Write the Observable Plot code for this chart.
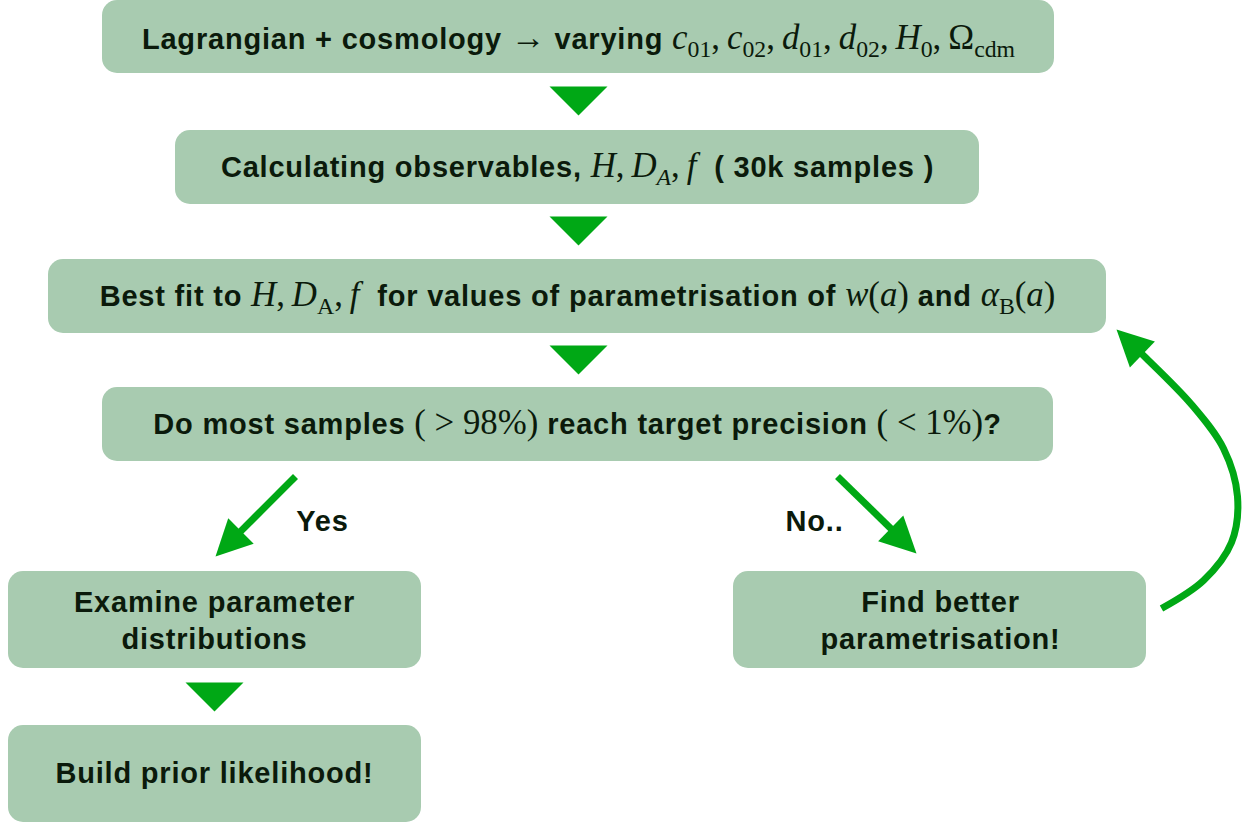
<!DOCTYPE html>
<html><head><meta charset="utf-8">
<script src="https://cdn.jsdelivr.net/npm/d3@7"></script>
<script src="https://cdn.jsdelivr.net/npm/@observablehq/plot@0.6"></script>
<style>body{margin:0;background:#fff}</style>
</head><body><div id="chart"></div>
<script>
// Flowchart boxes (layout in page pixels)
const boxIds = ["lagr","calc","fit","check","examine","better","build"];
const boxX1 = [102,175,48,102,8,733,8];
const boxX2 = [1054,979,1106,1053,421,1146,421];
const boxY1 = [0,130,259,387,571,571,725];
const boxY2 = [73,204,333,461,668,668,822];

// Labels: segments [text, kind]  b=bold sans, i=serif italic, r=serif roman, si/sr=subscript
const labelX = [578,577,577,577,214,214,940,940,214,322,814];
const labelY = [41,169,298,426,604,641,604,641,775,523,523];
const labelSize = [29,29,29,29,29,29,29,29,29,29,29];
const labelSegs = [
  [["Lagrangian + cosmology ","b"],["\u2192","r"],[" varying ","b"],["c","i"],["01","sr"],[",\u2009","r"],["c","i"],["02","sr"],[",\u2009","r"],["d","i"],["01","sr"],[",\u2009","r"],["d","i"],["02","sr"],[",\u2009","r"],["H","i"],["0","sr"],[",\u2009","r"],["\u03A9","r"],["cdm","sr"]],
  [["Calculating observables, ","b"],["H","i"],[",\u2009","r"],["D","i"],["A","si"],[",\u2009","r"],["f","i"],["  ( 30k samples )","b"]],
  [["Best fit to ","b"],["H","i"],[",\u2009","r"],["D","i"],["A","sr"],[",\u2009","r"],["f","i"],["  for values of parametrisation of ","b"],["w","i"],["(","r"],["a","i"],[")","r"],[" and ","b"],["\u03B1","i"],["B","sr"],["(","r"],["a","i"],[")","r"]],
  [["Do most samples ","b"],["( > 98%)","r"],[" reach target precision ","b"],["( < 1%)","r"],["?","b"]],
  [["Examine parameter","b"]],
  [["distributions","b"]],
  [["Find better","b"]],
  [["parametrisation!","b"]],
  [["Build prior likelihood!","b"]],
  [["Yes","b"]],
  [["No..","b"]]
];

// Down-pointing connector triangles
const triCx = [578,578,578,214];
const triTop = [86,216,345,682];

// Arrows
const arrowShafts = [
  {id:"yes", pts:[[295,476],[215,556]]},
  {id:"no", pts:[[837,476],[916,553]]},
  {id:"loop", pts:[[1161,608],[1203,580],[1231,542],[1237,496],[1223,448],[1191,404],[1145,357],[1116,329]]}
];

const boxFill = "#a8cbb0";
const green = "#00a815";
const ink = "#0b1a0b";

const boxes = boxIds.map((id,i)=>({id,x1:boxX1[i],x2:boxX2[i],y1:boxY1[i],y2:boxY2[i]}));
const labels = labelSegs.map((s,i)=>({x:labelX[i],y:labelY[i],size:labelSize[i],segs:s,text:s.map(d=>d[0]).join("")}));

const triW = 58, triH = 29;
const triPts = [];
triCx.forEach((cx,i)=>{
  const t = triTop[i];
  [[cx-triW/2,t],[cx+triW/2,t],[cx,t+triH],[cx-triW/2,t]].forEach(p=>triPts.push({k:i,x:p[0],y:p[1]}));
});

const headL = 36, headW = 18;
const shaftPts = [], headPts = [];
arrowShafts.forEach((a)=>{
  const n = a.pts.length;
  const tip = a.pts[n-1], prev = a.pts[n-2];
  let dx = tip[0]-prev[0], dy = tip[1]-prev[1];
  const len = Math.hypot(dx,dy); dx/=len; dy/=len;
  const base = [tip[0]-headL*dx, tip[1]-headL*dy];
  a.pts.slice(0,n-1).forEach(p=>shaftPts.push({k:a.id,x:p[0],y:p[1]}));
  shaftPts.push({k:a.id,x:base[0]+dx*4,y:base[1]+dy*4});
  const px = -dy, py = dx;
  [[tip[0],tip[1]],[base[0]+px*headW,base[1]+py*headW],[base[0]-px*headW,base[1]-py*headW],[tip[0],tip[1]]]
    .forEach(p=>headPts.push({k:a.id,x:p[0],y:p[1]}));
});

const W = 1253, H = 825;
const plot = Plot.plot({
  width: W, height: H,
  margin: 0,
  x: {domain:[0,W], range:[0,W], axis:null},
  y: {domain:[0,H], range:[0,H], axis:null},
  style: {background:"#fff"},
  marks: [
    Plot.rect(boxes, {x1:"x1",x2:"x2",y1:"y1",y2:"y2",fill:boxFill,rx:15}),
    Plot.line(triPts, {x:"x",y:"y",z:"k",fill:green,stroke:"none"}),
    Plot.line(shaftPts, {x:"x",y:"y",z:"k",stroke:green,strokeWidth:7,curve:"catmull-rom",strokeLinecap:"butt"}),
    Plot.line(headPts, {x:"x",y:"y",z:"k",fill:green,stroke:"none"}),
    Plot.text(labels, {x:"x",y:"y",text:"text",fill:ink,fontSize:24,fontWeight:"bold",textAnchor:"middle"})
  ]
});
document.getElementById("chart").appendChild(plot);

// Rich text formatting
const svgns = "http://www.w3.org/2000/svg";
const textEls = plot.querySelectorAll('g[aria-label="text"] text');
textEls.forEach((el,i)=>{
  const {segs, size} = labels[i];
  el.textContent = "";
  el.setAttribute("style","white-space:pre");
  let shifted = false;
  const mathSize = size*1.2, subSize = size*0.82, shift = size*0.28;
  segs.forEach(([s,k])=>{
    const t = document.createElementNS(svgns,"tspan");
    t.textContent = s;
    const isSub = k==="si"||k==="sr";
    if (k==="b") {
      t.setAttribute("font-family","'Liberation Sans', Arial, Helvetica, sans-serif");
      t.setAttribute("font-weight","bold");
      t.setAttribute("font-size", size);
      t.setAttribute("letter-spacing", "0.8");
    } else {
      t.setAttribute("font-family","'Liberation Serif', 'Times New Roman', serif");
      t.setAttribute("font-weight","normal");
      t.setAttribute("font-style",(k==="i"||k==="si")?"italic":"normal");
      t.setAttribute("font-size", isSub?subSize:mathSize);
    }
    if (isSub && !shifted) { t.setAttribute("dy",shift); shifted = true; }
    else if (!isSub && shifted) { t.setAttribute("dy",-shift); shifted = false; }
    el.appendChild(t);
  });
});
</script></body></html>
